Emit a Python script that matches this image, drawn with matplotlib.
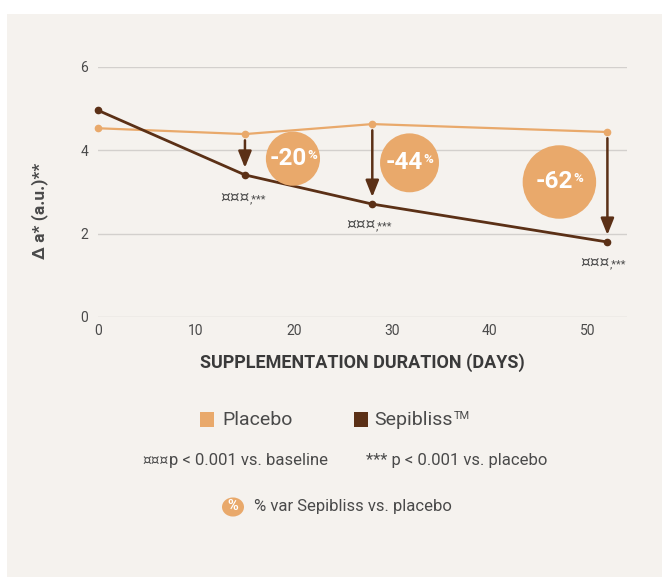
import matplotlib
matplotlib.use("Agg")
import matplotlib.pyplot as plt
from matplotlib.patches import Rectangle, Circle

plt.rcParams['font.family'] = ['Roboto', 'DejaVu Sans']

# Data
days = [0, 15, 28, 52]
placebo = [4.53, 4.39, 4.63, 4.44]
sepibliss = [4.96, 3.41, 2.71, 1.80]
var_labels = ["-20", "-44", "-62"]
var_days = [15, 28, 52]
sig_mark = "¤¤¤"
sig_star = ",***"
x_ticks = [0, 10, 20, 30, 40, 50]
y_ticks = [0, 2, 4, 6]

C_PLA = "#E9A96B"
C_SEP = "#5B3016"
C_BG = "#F5F2EE"
C_TXT = "#4A4A4A"
C_GRID = "#D3D0CD"
PX = 0.72  # points per pixel at dpi 100

fig = plt.figure(figsize=(6.66, 5.77), dpi=100)
fig.patch.set_facecolor("white")
fig.patches.append(Rectangle((7/666, 0), (662-7)/666, (577-14)/577,
                             transform=fig.transFigure, facecolor=C_BG,
                             edgecolor="none", zorder=-10))

ax = fig.add_axes([98/666, 1-317/577, (627-98)/666, (317-67)/577])
ax.set_facecolor("none")
ax.set_xlim(0, 54)
ax.set_ylim(0, 6)
for s in ax.spines.values():
    s.set_visible(False)
ax.set_yticks(y_ticks)
ax.set_xticks(x_ticks)
ax.tick_params(axis='both', length=0, labelsize=10, labelcolor=C_TXT)
ax.tick_params(axis='y', pad=7)
ax.tick_params(axis='x', pad=5)
ax.grid(axis='y', color=C_GRID, linewidth=1)
ax.set_axisbelow(True)

ax.plot(days, placebo, color=C_PLA, lw=1.6, marker='o', ms=4.5, clip_on=False, zorder=3)
ax.plot(days, sepibliss, color=C_SEP, lw=2.0, marker='o', ms=4.5, clip_on=False, zorder=3)

# arrows
for d in var_days:
    i = days.index(d)
    ax.annotate("", xy=(d, sepibliss[i] + 0.17), xytext=(d, placebo[i] - 0.15),
                arrowprops=dict(arrowstyle="-|>,head_width=0.4,head_length=1.0",
                                color=C_SEP, lw=1.8, shrinkA=0, shrinkB=0), zorder=4)

# bubbles
bub_pos = [(19.9, 3.8), (31.8, 3.7), (47.1, 3.24)]
bub_size = [1520, 1800, 2800]
for (bx, by), s, lab in zip(bub_pos, bub_size, var_labels):
    ax.scatter([bx], [by], s=s, color=C_PLA, edgecolors="none", zorder=5, clip_on=False)
    t = ax.annotate(lab, xy=(bx, by), xytext=(-5 * PX, 0), textcoords="offset points",
                    color="white", fontsize=17.5, fontweight="bold",
                    ha="center", va="center", zorder=6)
    ax.annotate("%", xy=(1, 1), xycoords=t, xytext=(0.5, -1), textcoords="offset points",
                color="white", fontsize=9.5, fontweight="bold",
                ha="left", va="top", zorder=6)

# significance labels
sig_pos = [(220, 197), (346, 224), (580, 262)]
for px, py in sig_pos:
    xd, yd = ax.transData.inverted().transform((px, 577 - py))
    t = ax.annotate(sig_mark, xy=(xd, yd), fontsize=11, color=C_TXT,
                    ha="left", va="center", family=["DejaVu Sans"])
    ax.annotate(sig_star, xy=(1, 0.5), xycoords=t, xytext=(0.5, -1.5),
                textcoords="offset points", fontsize=8, color=C_TXT,
                ha="left", va="center")

ax.set_ylabel("Δ a* (a.u.)**", fontsize=12.5, fontweight="bold", color=C_TXT)
ax.yaxis.set_label_coords((48 - 98) / 529, (317 - 211) / 250)
ax.set_xlabel("SUPPLEMENTATION DURATION (DAYS)", fontsize=13, fontweight="bold",
              color="#3A3A3A", labelpad=11)

# legend
fig.patches.append(Rectangle((200/666, 1-427/577), 14/666, 15/577, transform=fig.transFigure,
                             facecolor=C_PLA, edgecolor="none"))
fig.text(222/666, 1-420/577, "Placebo", fontsize=14, color=C_TXT, va="center", ha="left")
fig.patches.append(Rectangle((354/666, 1-427/577), 14/666, 15/577, transform=fig.transFigure,
                             facecolor=C_SEP, edgecolor="none"))
t = fig.text(374/666, 1-420/577, "Sepibliss", fontsize=14, color=C_TXT,
             va="center", ha="left")
ax.annotate("TM", xy=(1, 1), xycoords=t, xytext=(1, 0), textcoords="offset points",
            fontsize=8, color=C_TXT, va="top", ha="left", annotation_clip=False)

t = fig.text(142/666, 1-461/577, "¤¤¤", fontsize=10, color=C_TXT,
             va="center", ha="left", family=["DejaVu Sans"])
ax.annotate("p < 0.001 vs. baseline", xy=(1, 0.5), xycoords=t, xytext=(0.5, 0),
            textcoords="offset points", fontsize=12, color=C_TXT,
            va="center", ha="left", annotation_clip=False)
fig.text(366/666, 1-461/577, "*** p < 0.001 vs. placebo", fontsize=12, color=C_TXT,
         va="center", ha="left")

fig.patches.append(Circle((233/666, 1-507/577), 11/666, transform=fig.transFigure,
                          facecolor=C_PLA, edgecolor="none"))
fig.text(233/666, 1-506/577, "%", fontsize=10.5, fontweight="bold", color="white",
         ha="center", va="center")
fig.text(254/666, 1-507/577, "% var Sepibliss vs. placebo", fontsize=12, color=C_TXT,
         va="center", ha="left")

fig.savefig("out.png", dpi=100, facecolor=fig.get_facecolor())
